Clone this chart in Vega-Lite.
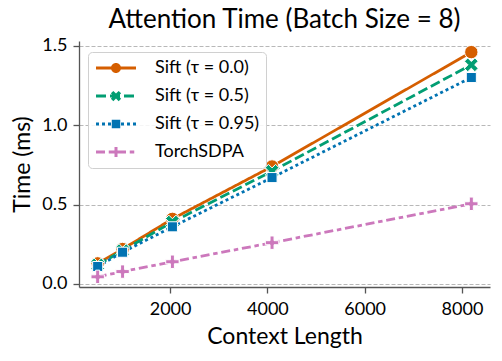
{
  "$schema": "https://vega.github.io/schema/vega-lite/v6.json",
  "autosize": {"type": "none"},
  "padding": {"left": 79, "top": 41, "right": 12, "bottom": 74},
  "width": 411,
  "height": 246,
  "background": "white",
  "title": {"text": "Attention Time (Batch Size = 8)", "fontSize": 26, "font": "Lato", "fontWeight": "normal", "color": "#000000", "anchor": "middle", "frame": "group", "baseline": "alphabetic", "offset": 10, "dy": 27},
  "data": {
    "values": [
      {"series": "Sift (τ = 0.0)", "ctx": 512, "time": 0.13},
      {"series": "Sift (τ = 0.0)", "ctx": 1024, "time": 0.22},
      {"series": "Sift (τ = 0.0)", "ctx": 2048, "time": 0.41},
      {"series": "Sift (τ = 0.0)", "ctx": 4096, "time": 0.74},
      {"series": "Sift (τ = 0.0)", "ctx": 8192, "time": 1.46},
      {"series": "Sift (τ = 0.5)", "ctx": 512, "time": 0.12},
      {"series": "Sift (τ = 0.5)", "ctx": 1024, "time": 0.21},
      {"series": "Sift (τ = 0.5)", "ctx": 2048, "time": 0.39},
      {"series": "Sift (τ = 0.5)", "ctx": 4096, "time": 0.71},
      {"series": "Sift (τ = 0.5)", "ctx": 8192, "time": 1.38},
      {"series": "Sift (τ = 0.95)", "ctx": 512, "time": 0.11},
      {"series": "Sift (τ = 0.95)", "ctx": 1024, "time": 0.2},
      {"series": "Sift (τ = 0.95)", "ctx": 2048, "time": 0.36},
      {"series": "Sift (τ = 0.95)", "ctx": 4096, "time": 0.67},
      {"series": "Sift (τ = 0.95)", "ctx": 8192, "time": 1.3},
      {"series": "TorchSDPA", "ctx": 512, "time": 0.045},
      {"series": "TorchSDPA", "ctx": 1024, "time": 0.078},
      {"series": "TorchSDPA", "ctx": 2048, "time": 0.14},
      {"series": "TorchSDPA", "ctx": 4096, "time": 0.26},
      {"series": "TorchSDPA", "ctx": 8192, "time": 0.505}
    ]
  },
  "encoding": {
    "x": {
      "field": "ctx", "type": "quantitative",
      "scale": {"domain": [128, 8576], "nice": false, "zero": false},
      "axis": {"title": "Context Length", "values": [2000, 4000, 6000, 8000], "format": "d", "grid": false}
    },
    "y": {
      "field": "time", "type": "quantitative",
      "scale": {"domain": [-0.019, 1.53], "nice": false, "zero": false},
      "axis": {"title": "Time (ms)", "values": [0, 0.5, 1.0, 1.5], "format": ".1f", "grid": true, "gridDash": [4, 2], "gridColor": "#b8b8b8", "gridWidth": 1}
    },
    "color": {
      "field": "series", "type": "nominal",
      "scale": {"domain": ["Sift (τ = 0.0)", "Sift (τ = 0.5)", "Sift (τ = 0.95)", "TorchSDPA"], "range": ["#d55e00", "#029e73", "#0173b2", "#cc78bc"]},
      "legend": {
        "orient": "none", "legendX": 9, "legendY": 11, "title": null,
        "labelFontSize": 18, "labelFont": "Lato", "labelColor": "#000000",
        "padding": 7, "strokeColor": "#d0d0d0", "cornerRadius": 4, "fillColor": "rgba(255,255,255,0.85)",
        "symbolSize": 100, "symbolOffset": 12, "labelOffset": 30, "rowPadding": 10,
        "encode": {
          "symbols": {
            "update": {
              "shape": {"signal": "datum.value === 'Sift (τ = 0.0)' ? 'M-4,-0.3H4V0.3H-4Z M0,-1A1,1,0,1,1,0,1A1,1,0,1,1,0,-1Z' : datum.value === 'Sift (τ = 0.5)' ? 'M-4,-0.3H-2V0.3H-4Z M-1.2,-0.3H0.8V0.3H-1.2Z M1.6,-0.3H3.6V0.3H1.6Z M1.025,-0.53L0.495,0L1.025,0.53L0.53,1.025L0,0.495L-0.53,1.025L-1.025,0.53L-0.495,0L-1.025,-0.53L-0.53,-1.025L0,-0.495L0.53,-1.025Z' : datum.value === 'Sift (τ = 0.95)' ? 'M-4,-0.3H-3.4V0.3H-4Z M-2.8,-0.3H-2.2V0.3H-2.8Z M-1.6,-0.3H-1V0.3H-1.6Z M1,-0.3H1.6V0.3H1Z M2.2,-0.3H2.8V0.3H2.2Z M3.4,-0.3H4V0.3H3.4Z M-0.85,-0.85H0.85V0.85H-0.85Z' : 'M-4,-0.3H-2.2V0.3H-4Z M-1.45,-0.3H-0.55V0.3H-1.45Z M0.2,-0.3H2V0.3H0.2Z M2.75,-0.3H3.65V0.3H2.75Z M-1,-0.3H-0.3V-1H0.3V-0.3H1V0.3H0.3V1H-0.3V0.3H-1Z'"},
              "fill": {"scale": "color", "field": "value"},
              "fillOpacity": {"value": 1},
              "opacity": {"value": 1},
              "stroke": {"value": "transparent"},
              "strokeWidth": {"value": 0},
              "size": {"value": 100}
            }
          }
        }
      }
    }
  },
  "layer": [
    {
      "mark": {"type": "line", "strokeWidth": 2.8},
      "encoding": {
        "strokeDash": {
          "field": "series", "type": "nominal",
          "scale": {"domain": ["Sift (τ = 0.0)", "Sift (τ = 0.5)", "Sift (τ = 0.95)", "TorchSDPA"], "range": [[1, 0], [10, 4], [3, 3], [9, 3.75, 4.5, 3.75]]},
          "legend": null
        }
      }
    },
    {
      "transform": [{"filter": "datum.series === 'Sift (τ = 0.0)'"}],
      "mark": {"type": "point", "shape": "circle", "filled": true, "size": 180, "opacity": 1, "stroke": "white", "strokeWidth": 1}
    },
    {
      "transform": [{"filter": "datum.series === 'Sift (τ = 0.5)'"}],
      "mark": {"type": "point", "shape": "M1.025,-0.53L0.495,0L1.025,0.53L0.53,1.025L0,0.495L-0.53,1.025L-1.025,0.53L-0.495,0L-1.025,-0.53L-0.53,-1.025L0,-0.495L0.53,-1.025Z", "filled": true, "size": 180, "opacity": 1, "stroke": "white", "strokeWidth": 1}
    },
    {
      "transform": [{"filter": "datum.series === 'Sift (τ = 0.95)'"}],
      "mark": {"type": "point", "shape": "M-0.75,-0.75H0.75V0.75H-0.75Z", "filled": true, "size": 180, "opacity": 1, "stroke": "white", "strokeWidth": 1}
    },
    {
      "transform": [{"filter": "datum.series === 'TorchSDPA'"}],
      "mark": {"type": "point", "shape": "M-1,-0.3H-0.3V-1H0.3V-0.3H1V0.3H0.3V1H-0.3V0.3H-1Z", "filled": true, "size": 180, "opacity": 1, "stroke": "white", "strokeWidth": 1}
    }
  ],
  "config": {
    "view": {"stroke": null},
    "font": "Lato",
    "axis": {
      "labelFont": "Lato", "labelFontSize": 18, "labelColor": "#000000",
      "titleFont": "Lato", "titleFontSize": 23, "titleFontWeight": "normal", "titleColor": "#000000",
      "domainColor": "#555555", "domainWidth": 1.3, "tickColor": "#555555", "tickWidth": 1.3, "tickSize": 6
    },
    "axisX": {"titlePadding": 7, "labelPadding": 7},
    "axisY": {"titlePadding": 7, "labelPadding": 6}
  }
}
